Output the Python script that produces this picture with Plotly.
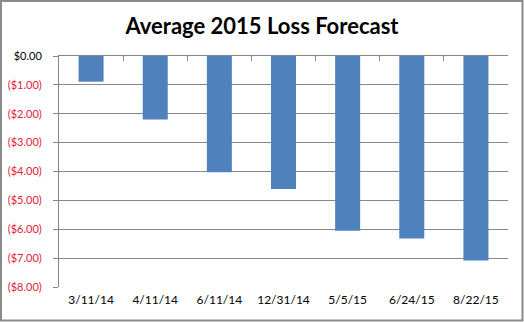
import plotly.graph_objects as go

dates = ["3/11/14", "4/11/14", "6/11/14", "12/31/14", "5/5/15", "6/24/15", "8/22/15"]
loss = [-0.89, -2.20, -4.03, -4.61, -6.05, -6.32, -7.08]
y_ticks = [0, -1, -2, -3, -4, -5, -6, -7, -8]
y_labels = ["$0.00", "($1.00)", "($2.00)", "($3.00)", "($4.00)", "($5.00)", "($6.00)", "($7.00)", "($8.00)"]

RED = "#e0203a"
GRID = "#878787"
W, H = 524, 322
ML, MR, MT, MB = 59, 16, 56, 35
PW, PH = W - ML - MR, H - MT - MB

ticktext = [t if v == 0 else f'<span style="color:{RED}">{t}</span>' for v, t in zip(y_ticks, y_labels)]

fig = go.Figure()
fig.add_trace(go.Bar(x=dates, y=loss, marker=dict(color="#4f81bd", line=dict(width=0)),
                     hoverinfo="x+y"))
fig.add_trace(go.Scatter(x=dates, y=loss, xaxis="x2", mode="markers",
                         marker=dict(opacity=0), showlegend=False, hoverinfo="skip"))

fig.update_layout(
    width=W, height=H,
    margin=dict(l=ML, r=MR, t=MT, b=MB),
    paper_bgcolor="white", plot_bgcolor="white",
    showlegend=False,
    bargap=0.61,
    font=dict(family="Lato, 'Open Sans', sans-serif", size=12, color="black"),
    title=dict(text="<b>Average 2015 Loss Forecast</b>", x=0.5, xanchor="center",
               y=1 - 26 / H, yanchor="middle",
               font=dict(family="Lato, 'Open Sans', sans-serif", size=22, color="black")),
    xaxis=dict(type="category", categoryorder="array", categoryarray=dates,
               range=[-0.5, 6.5], showline=False, ticks="", showgrid=False,
               zeroline=False, automargin=False, ticklabelstandoff=4,
               tickfont=dict(size=12, color="black")),
    xaxis2=dict(type="category", categoryorder="array", categoryarray=dates,
                range=[-0.5, 6.5], overlaying="x", side="top", anchor="y",
                showline=True, linecolor=GRID, linewidth=1,
                ticks="inside", tickson="boundaries", ticklen=5, tickcolor=GRID,
                showticklabels=False, showgrid=False, zeroline=False, automargin=False),
    yaxis=dict(range=[-8, 0], tickvals=y_ticks, ticktext=ticktext,
               showline=True, linecolor=GRID, linewidth=1,
               ticks="outside", ticklen=5, tickcolor=GRID,
               showgrid=True, gridcolor=GRID, gridwidth=1,
               zeroline=False, automargin=False, ticklabelstandoff=9,
               tickfont=dict(size=11, color="black")),
    shapes=[dict(type="rect", xref="paper", yref="paper",
                 x0=-(ML - 1) / PW, x1=1 + (MR - 1.5) / PW,
                 y0=-(MB - 1.5) / PH, y1=1 + (MT - 1) / PH,
                 line=dict(color="#8a8a8a", width=2), fillcolor="rgba(0,0,0,0)",
                 layer="above")],
)

fig.write_html("out.html")
